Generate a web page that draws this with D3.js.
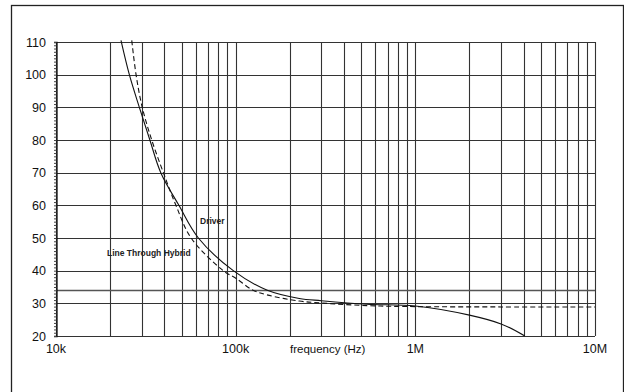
<!DOCTYPE html>
<html>
<head>
<meta charset="utf-8">
<script src="https://cdn.jsdelivr.net/npm/d3@7"></script>
<style>
  body { margin: 0; background: #fff; }
  svg { display: block; font-family: 'Liberation Sans', Arial, sans-serif; }
</style>
</head>
<body>
<div id="chart"></div>
<script>
// frequency (Hz) / value pairs
const driverFreq = [23000, 25600, 29100, 33300, 38300, 48300, 62000, 97000, 150000, 226000, 300000, 537000, 1000000, 2000000, 3000000, 4070000];
const driverVal = [110.5, 100, 90, 80, 70, 60, 50, 40, 34, 31.5, 30.8, 29.7, 29.2, 26.4, 23.7, 20];

const hybridFreq = [26400, 27900, 30200, 34100, 39600, 46500, 56500, 85300, 100700, 125000, 149000, 226000, 300000, 537000, 1000000, 3000000, 10000000];
const hybridVal = [110.5, 100, 90, 80, 70, 60, 50, 40, 37.6, 34, 32.6, 30.7, 30.1, 29.3, 29.0, 28.9, 28.9];

const yTicks = [20, 30, 40, 50, 60, 70, 80, 90, 100, 110];
const yExtraLine = 34;
const xLabels = [[1e4, '10k'], [1e5, '100k'], [1e6, '1M'], [1e7, '10M']];

const width = 624, height = 392;
const margin = {top: 42, right: 29, bottom: 56, left: 56};

const svg = d3.select('#chart').append('svg')
  .attr('width', width)
  .attr('height', height);

// outer frame
svg.append('rect')
  .attr('x', 11.5).attr('y', 5.5)
  .attr('width', 612).attr('height', 400)
  .attr('fill', 'none')
  .attr('stroke', '#222')
  .attr('stroke-width', 1.3);

const x = d3.scaleLog().domain([1e4, 1e7]).range([margin.left, width - margin.right]);
const y = d3.scaleLinear().domain([20, 110]).range([height - margin.bottom, margin.top]);

// vertical grid: 1..9 of every decade
const xGrid = [];
for (let d = 1e4; d < 1e7; d *= 10) {
  for (let m = 1; m < 10; m++) xGrid.push(d * m);
}
xGrid.push(1e7);

const grid = svg.append('g');
grid.selectAll('line.v')
  .data(xGrid)
  .enter().append('line')
  .attr('class', 'v')
  .attr('x1', d => Math.round(x(d)) + 0.5)
  .attr('x2', d => Math.round(x(d)) + 0.5)
  .attr('y1', y(110))
  .attr('y2', y(20))
  .attr('stroke', '#333')
  .attr('stroke-width', 1.1);

grid.selectAll('line.h')
  .data(yTicks.concat([yExtraLine]))
  .enter().append('line')
  .attr('class', 'h')
  .attr('x1', x(1e4))
  .attr('x2', x(1e7))
  .attr('y1', d => Math.round(y(d)) + 0.5)
  .attr('y2', d => Math.round(y(d)) + 0.5)
  .attr('stroke', d => d === yExtraLine ? '#555' : '#333')
  .attr('stroke-width', d => d === yExtraLine ? 1.3 : 1.1);

// left axis with minor ticks
const yAxis = d3.axisLeft(y)
  .ticks(90)
  .tickSize(2.5)
  .tickFormat('');
svg.append('g')
  .attr('transform', `translate(${Math.round(x(1e4)) + 0.5},0)`)
  .call(yAxis)
  .call(g => g.select('.domain').attr('stroke', '#111').attr('stroke-width', 1.3))
  .call(g => g.selectAll('.tick line').attr('stroke', '#444'));

// y labels
svg.append('g').selectAll('text')
  .data(yTicks)
  .enter().append('text')
  .attr('x', 46)
  .attr('y', d => y(d))
  .attr('dy', '0.36em')
  .attr('text-anchor', 'end')
  .attr('font-size', 12.5)
  .attr('fill', '#111')
  .text(d => d);

// x labels
svg.append('g').selectAll('text')
  .data(xLabels)
  .enter().append('text')
  .attr('x', d => x(d[0]))
  .attr('y', 353)
  .attr('text-anchor', 'middle')
  .attr('font-size', 12.5)
  .attr('fill', '#111')
  .text(d => d[1]);

svg.append('text')
  .attr('x', 290)
  .attr('y', 353)
  .attr('font-size', 11.5)
  .attr('fill', '#111')
  .text('frequency (Hz)');

// curves
const line = d3.line()
  .x(d => x(d[0]))
  .y(d => y(d[1]))
  .curve(d3.curveCatmullRom.alpha(0.5));

const driver = d3.zip(driverFreq, driverVal);
const hybrid = d3.zip(hybridFreq, hybridVal);

svg.append('path')
  .datum(hybrid)
  .attr('fill', 'none')
  .attr('stroke', '#111')
  .attr('stroke-width', 1.1)
  .attr('stroke-dasharray', '5,3')
  .attr('d', line);

svg.append('path')
  .datum(driver)
  .attr('fill', 'none')
  .attr('stroke', '#111')
  .attr('stroke-width', 1.1)
  .attr('d', line);

// curve labels
svg.append('text')
  .attr('x', 200)
  .attr('y', 224)
  .attr('font-size', 8.5)
  .attr('font-weight', 'bold')
  .attr('fill', '#222')
  .text('Driver');

svg.append('text')
  .attr('x', 107)
  .attr('y', 255.5)
  .attr('font-size', 8.5)
  .attr('font-weight', 'bold')
  .attr('fill', '#222')
  .text('Line Through Hybrid');
</script>
</body>
</html>
